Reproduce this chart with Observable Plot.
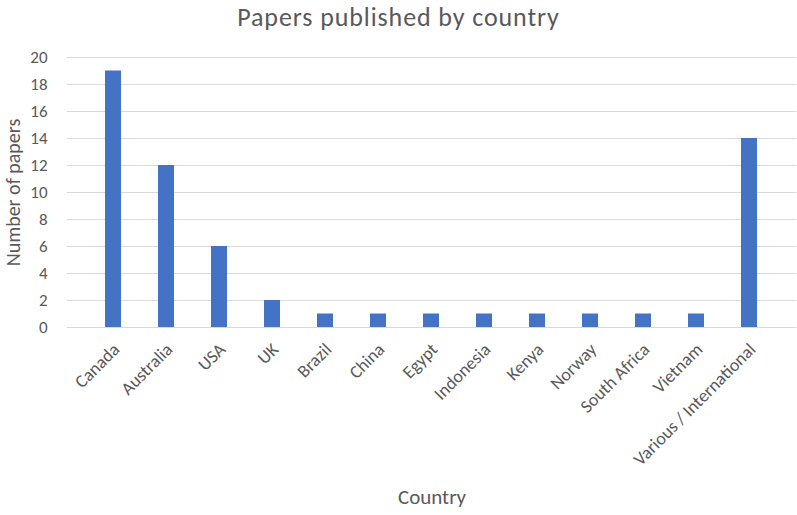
<!DOCTYPE html>
<html>
<head>
<meta charset="utf-8">
<script src="https://cdn.jsdelivr.net/npm/d3@7"></script>
<script src="https://cdn.jsdelivr.net/npm/@observablehq/plot@0.6"></script>
<style>
  html, body { margin: 0; padding: 0; background: #fff; }
  #wrap { position: relative; width: 797px; height: 515px; font-family: Carlito, Lato, "Open Sans", sans-serif; }
  #title { position: absolute; left: 0; top: 1px; width: 797px; text-align: center; font-size: 26px; line-height: normal; letter-spacing: 0.9px; color: #595959; z-index: 1; }
  #chart svg g[aria-label="x-axis tick label"] text { font-size: 18px; }
  #chart svg g[aria-label="y-axis tick label"] text { font-size: 17px; }
</style>
</head>
<body>
<div id="wrap">
  <div id="title">Papers published by country</div>
  <div id="chart"></div>
</div>
<script>
const countries = ["Canada","Australia","USA","UK","Brazil","China","Egypt","Indonesia","Kenya","Norway","South Africa","Vietnam","Various / International"];
const papers = [19,12,6,2,1,1,1,1,1,1,1,1,14];
const yTicks = [0,2,4,6,8,10,12,14,16,18,20];

const data = countries.map((c, i) => ({country: c, n: papers[i]}));

const chart = Plot.plot({
  width: 797,
  height: 515,
  marginTop: 57,
  marginBottom: 188,
  marginLeft: 67,
  marginRight: 1,
  style: {fontFamily: 'Carlito, Lato, "Open Sans", sans-serif', color: "#595959", background: "transparent"},
  x: {domain: countries, padding: 0.69, label: null},
  y: {domain: [0, 20], label: null},
  marks: [
    Plot.gridY(yTicks, {stroke: "#d9d9d9", strokeOpacity: 1, strokeWidth: 1}),
    Plot.barY(data, {x: "country", y: "n", fill: "#4472C4"}),
    Plot.axisY(yTicks, {tickSize: 0, tickPadding: 20, label: null, fontSize: 17}),
    Plot.axisX({tickSize: 0, tickRotate: -45, tickPadding: 19, dx: 3, label: null, fontSize: 18}),
    Plot.text(["Country"], {frameAnchor: "bottom", dy: 176, fill: "#595959", fontSize: 21}),
    Plot.text(["Number of papers"], {frameAnchor: "left", dx: -54, rotate: -90, textAnchor: "middle", fill: "#595959", fontSize: 20})
  ]
});
document.getElementById("chart").appendChild(chart);
</script>
</body>
</html>
